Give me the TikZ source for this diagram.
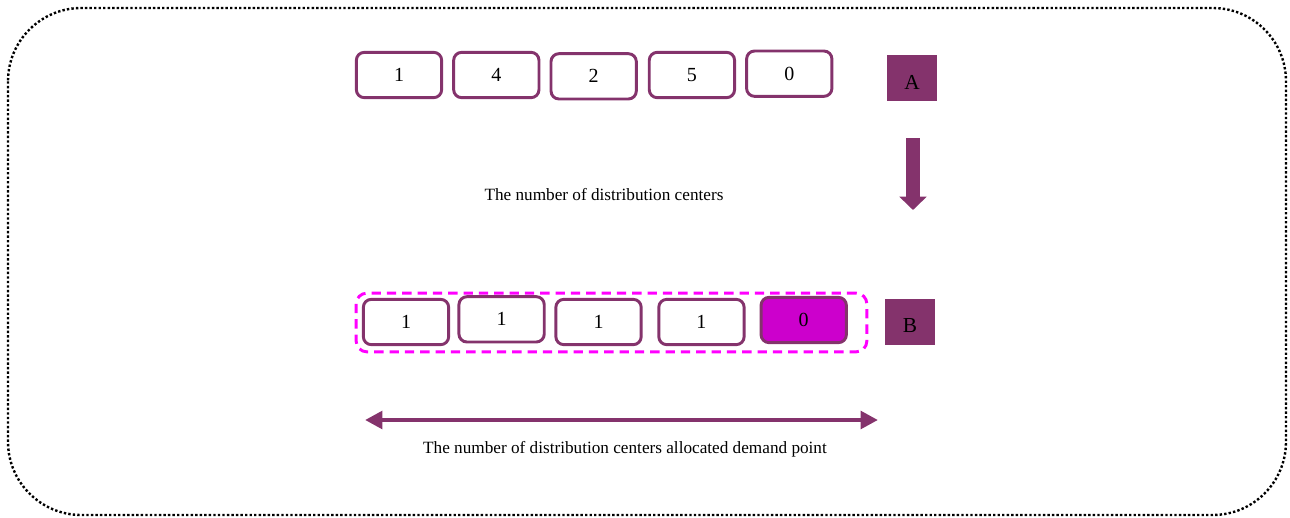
\documentclass[tikz,border=0pt]{standalone}
\usepackage{xcolor}
\usepackage{fontspec}
\setmainfont{Liberation Serif}
\usetikzlibrary{positioning,arrows.meta}
\definecolor{plum}{HTML}{84336C}
\definecolor{magbox}{HTML}{CC00CC}
\definecolor{magdash}{HTML}{FF00FF}
\tikzset{
  gene/.style={rectangle,rounded corners=6pt,draw=plum,line width=2.2pt,fill=white,
    minimum width=64pt,minimum height=34pt,inner sep=0pt,font=\fontsize{15}{17}\selectfont},
  tag/.style={rectangle,fill=plum,minimum width=37pt,minimum height=34pt,inner sep=0pt,
    text height=1.5ex,text depth=0.25ex,font=\fontsize{16}{18}\selectfont},
  caption/.style={font=\fontsize{12.9}{15}\selectfont}
}

\begin{document}
\begin{tikzpicture}[x=0.75pt,y=-0.75pt]
  \useasboundingbox (0,0) rectangle (1290,518);
  \draw[line width=1.8pt,dash pattern=on 1.8pt off 1.6pt,rounded corners=55pt] (8,8) rectangle (1286,515);

  % chromosome A
  \node[gene] (a1) at (399,75) {1};
  \node[gene,right=6.8pt of a1] (a2) {4};
  \node[gene,right=6.8pt of a2,yshift=-1pt] (a3) {2};
  \node[gene,right=7.5pt of a3,yshift=1pt] (a4) {5};
  \node[gene,right=6.8pt of a4,yshift=1pt] (a5) {0};
  \node[tag] (tagA) at (912,78) {\raisebox{-6pt}{A}};

  \coordinate (downtop) at (913,138);
  \coordinate (downtip) at (913,210);
  \draw[line width=10pt,plum,-{Triangle[length=10pt,width=20pt]}] (downtop) -- (downtip);

  \node[caption] (capA) at (604,195) {The number of distribution centers};

  % chromosome B
  \node[rectangle,draw=magdash,line width=2.2pt,dash pattern=on 7pt off 4.5pt,rounded corners=8pt,
    minimum width=383pt,minimum height=44pt] (group) at (611.5,322.5) {};
  \node[gene] (b1) at (406,322) {1};
  \node[gene,right=5.5pt of b1,yshift=2pt] (b2) {1};
  \node[gene,right=6.5pt of b2,yshift=-2pt] (b3) {1};
  \node[gene,right=11pt of b3] (b4) {1};
  \node[gene,right=10.5pt of b4,yshift=1.5pt,fill=magbox] (b5) {0};
  \node[tag] (tagB) at (910,322) {\raisebox{-5pt}{B}};

  \coordinate (leftend) at (365,420);
  \coordinate (rightend) at (878,420);
  \draw[line width=3.7pt,plum,{Triangle[length=13pt,width=13pt]}-{Triangle[length=13pt,width=13pt]}] (leftend) -- (rightend);

  \node[caption] (capB) at (625,449) {The number of distribution centers allocated demand point};
\end{tikzpicture}
\end{document}
